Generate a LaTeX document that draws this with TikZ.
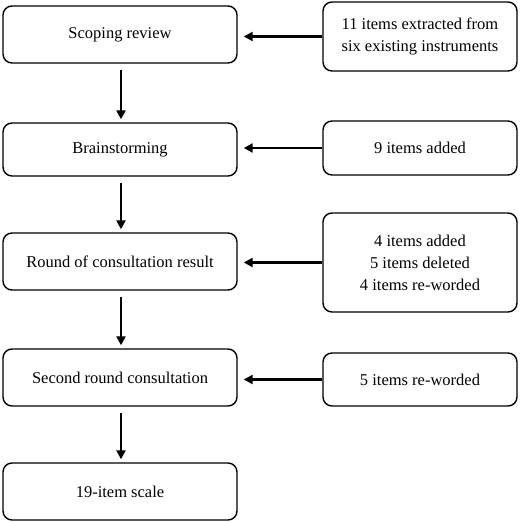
\documentclass[tikz,border=0pt]{standalone}
\usepackage{fontspec}
\setmainfont{Liberation Serif}
\usetikzlibrary{arrows.meta}
\begin{document}
\begin{tikzpicture}[x=1pt,y=1pt,
  box/.style={draw, line width=1.4pt, rounded corners=9pt, align=center, inner sep=0pt, font=\fontsize{16.5}{22}\selectfont},
  lbox/.style={box, minimum width=234pt},
  rbox/.style={box, minimum width=194pt},
  arr/.style={line width=2.8pt, -{Triangle[length=9pt,width=9pt]}}
]
\useasboundingbox (0,0) rectangle (520,522);
\node[lbox, minimum height=57pt] (L1) at (120,{522-34.5}) {Scoping review};
\node[lbox, minimum height=53pt] (L2) at (120,{522-149.5}) {Brainstorming};
\node[lbox, minimum height=57pt] (L3) at (120,{522-261.5}) {Round of consultation result};
\node[lbox, minimum height=57pt] (L4) at (120,{522-377.5}) {Second round consultation};
\node[lbox, minimum height=57pt] (L5) at (120,{522-491.5}) {19-item scale};
\node[rbox, minimum height=69pt] (R1) at (420,{522-36.5}) {11 items extracted from\\six existing instruments};
\node[rbox, minimum height=54pt] (R2) at (420,{522-148}) {9 items added};
\node[rbox, minimum height=99pt] (R3) at (420,{522-262.5}) {4 items added\\5 items deleted\\4 items re-worded};
\node[rbox, minimum height=53pt] (R4) at (420,{522-379.5}) {5 items re-worded};
\foreach \a/\b in {L1/L2,L2/L3,L3/L4,L4/L5}
  \draw[arr, shorten <=6pt, shorten >=3pt] ([xshift=1pt]\a.south) -- ([xshift=1pt]\b.north);
\foreach \r/\l in {R1/L1,R2/L2,R3/L3,R4/L4}
  \draw[arr, shorten >=6pt] (\r.west) -- (\r.west -| \l.east);
\end{tikzpicture}
\end{document}
